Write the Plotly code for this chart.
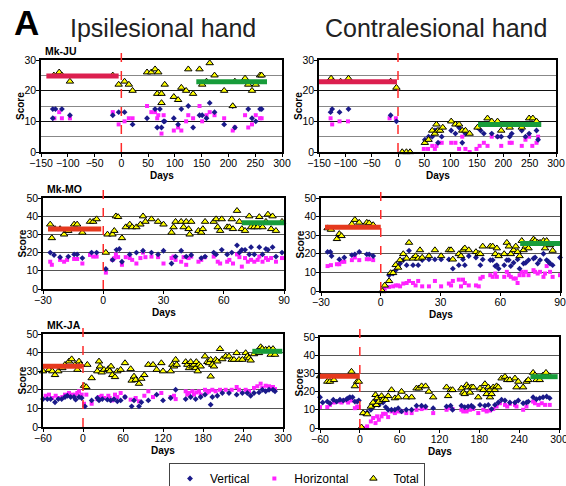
import plotly.graph_objects as go

FONT = "Arial, 'Liberation Sans', Helvetica, sans-serif"

# ---------------- Mk-JU ipsilesional ----------------
JU_I_T_DAY = [-126,-116,-111,-96,-16,-5,6,14,21,48,56,63,69,67,75,75,81,98,106,112,121,125,134,146,151,159,165,174,192,208,212,231,237,244,251,259,262]
JU_I_T = [25,26,25,23,25,22,23,22,20,26,26,27,26,19,19,16,22,18,17,21,20,27,19,27,22,23,29,25,20,15,23,24,22,20,22,25,25]
JU_I_V_DAY = [-128,-123,-128,-111,-96,-16,-5,6,21,48,63,67,72,75,79,81,98,106,112,125,134,146,151,159,165,174,192,208,212,237,244,251,259,262]
JU_I_V = [14,14,11,14,12,12,13,13,9,11,14,8,14,8,10,10,11,9,14,15,8,12,12,11,16,13,9,15,8,14,11,10,14,14]
JU_I_H_DAY = [-125,-116,-111,-96,-16,-5,6,14,21,48,56,63,67,69,75,79,98,106,112,121,125,134,146,151,159,165,174,192,208,212,231,237,244,251,259,262]
JU_I_H = [11,13,11,11,13,9,10,11,11,15,13,13,11,12,6,12,7,8,7,10,12,11,15,10,12,13,12,11,7,8,12,8,9,12,11,11]

# ---------------- Mk-JU contralesional ----------------
JU_C_T_DAY = [-127,-123,-109,-94,-14,-3,8,16,23,51,58,65,70,73,76,80,85,101,109,116,122,128,136,151,170,178,189,196,212,216,235,249,256,263]
JU_C_T = [24,23,23,24,23,21,0,0,0,3,4,7,6,9,7,7,8,10,9,9,7,7,6,8,11,10,10,7,8,9,8,11,11,10]
JU_C_V_DAY = [-128,-125,-111,-94,-14,-3,51,58,65,70,73,76,83,101,109,116,122,128,151,157,163,178,189,196,212,216,235,242,249,263,266]
JU_C_V = [13,14,13,14,12,10,4,5,5,7,7,3,5,7,6,8,3,6,8,7,6,6,5,5,5,6,7,5,6,7,4]
JU_C_H_DAY = [-128,-125,-111,-95,-16,-4,49,57,65,70,73,78,83,101,109,116,122,128,136,149,155,163,170,178,189,196,212,216,235,242,249,255,263,266]
JU_C_H = [11,9,10,10,11,11,1,1,2,1,2,3,3,3,3,1,5,1,0,1,2,3,2,5,5,2,3,3,2,4,5,2,3,5]

# ---------------- Mk-MO ipsilesional ----------------
MO_I_T_DAY = [-26.4,-25.6,-24,-21.5,-19.5,-18,-17.4,-14.5,-13,-10.4,-6.6,-5,-3.3,1.3,2.1,4.6,5.5,6.3,7.4,9.3,11.2,13.2,14.4,16.5,18.5,19.8,21,24,27.3,30,34,35,36,38.8,40,41.3,42.5,43,43.8,47.4,48.8,49.6,50.7,55,56.2,57,58.2,59,61.7,62.8,64,64.6,66.6,67.8,69,70.6,72.7,73.6,75.2,76.9,77.7,79.3,81,82,83.6,84.3,86,89]
MO_I_T = [35.5,28,33,33,30,32,32,35.5,35.5,31,37,37,38.4,20,30,30,32,40,39.6,28,34,35.5,34,34,35.5,40,37,38.4,37,35.5,31,34,37,37,34,37,33,30,37,32,31,33,37,37,38.4,34,32,38.4,34,34,38.4,33,43,37,33,32,40,34,34,34,39.6,34,37,41,33,40,32,37]
MO_I_V_DAY = [-26.4,-24.5,-21.5,-17.4,-14.5,-13,-10.4,-5.8,-3.3,1.3,4.6,6.6,8,9.3,13.2,16.5,19.8,24,27.3,30,34,36,38.8,41.3,43.8,48.8,50.7,55,56.2,59,61.7,64,66.6,67.8,69,70.6,72.7,73.6,75.2,77.7,79.3,81,82,84.3,86,89]
MO_I_V = [20,18.7,17.5,17.8,19,19,17,20,20,11,16,21.5,22,15,19,20,21,20,19,21,14,17.8,21,17.8,18.7,17,17.8,20,19,21.5,19,20,24,20,21.5,21.5,19,23,19,23,19,22,21.5,23,17.8,20]
MO_I_H_DAY = [-26.4,-25.6,-21.5,-19.5,-18,-14.5,-13,-10.4,-6.6,-5,-3.3,1.3,4.6,5.5,6.3,7.4,9.3,11.2,13.2,14.4,16.5,18.5,19.8,21,24,27.3,30,34,35,36,38.8,40,41.3,42.5,43.8,47.4,48.8,50.7,55,57,58.2,61.7,62.8,64.6,66.6,67.8,69,70.6,72,73.6,75.2,76.9,77.7,79.3,81,82,83.6,86,89]
MO_I_H = [15,13.3,16,15,16,16.5,16.5,14,18.7,17.8,17.8,9,16,17,19,17.5,13.3,17.5,17,16,14,17,20,17.5,17.8,17.5,14,17,17.8,16,15,17.5,13.3,17,17.8,15,16,17.5,17.8,15,14,15,16,14,19,17.5,12.3,17,15,16,15,16,17.8,15,17,16,17,15,17]

# ---------------- Mk-MO contralesional ----------------
MO_C_T_DAY = [-26.7,-25,-22,-20.8,-19.7,-14.5,-13,-10.8,-7,-5.8,-3.8,0.8,2,4.2,5,6.2,7.5,8.7,9.7,11.3,13,14.2,16.2,17.5,18.8,19.7,20.8,24.2,27.2,30.3,34.2,35.3,36.2,39.2,40.3,41.3,42.2,44.2,47.8,49.2,50,51.2,55,56.2,57.5,58.3,59.2,62,63.3,64.3,65.3,66.7,67.8,68.7,69.7,70.8,71.7,72.8,74.2,76.7,77.5,78.8,80,81.7,82.5,83.3,85,86.3]
MO_C_T = [33.8,33,28,30.7,29.6,36,38.3,36.8,36.8,36.5,35.5,0,3,5.4,9.7,9.7,14,12.6,16.6,19.9,17.5,26,17.5,18.8,17.5,22,18,18.8,22,18.8,22,22,17,19.9,18.8,22,23,22,21,20,19.9,24,24,24,19.9,23,18.8,19.9,26,24,19.9,22,24,21,18.8,27,22,24,23,27.8,27,26,26,27,23,27,24.7,21.7]
MO_C_V_DAY = [-26.7,-25.3,-24.7,-20.8,-18.3,-14.5,-13,-10.8,-7,-5.8,-3.8,4.2,6.2,7.5,8.7,9.7,11.3,13,14.2,16.2,18.8,20.8,24.2,27.2,30.3,34.2,36.2,39.2,41.3,42.2,44.2,47.8,50,51.2,55,56.2,57.5,58.3,59.2,62,63.3,64.3,65.3,66.7,68.7,69.7,71.7,72.8,74.2,76.7,77.5,78.8,80,81.7,83.3,84.2,85,86.3,90]
MO_C_V = [21,21,18.8,17,18,19.3,19.7,21,19.7,19.7,18.8,8.5,9.4,11.2,13.4,14.8,16.6,13.9,21.7,13.9,13.9,16.6,17,17,17,17,12,13.9,17,13.9,18.8,18,13.9,17,16.6,16.6,13.4,13.9,12,13.9,16.6,16.6,13.4,15.2,17,12,14.8,15.2,16.6,17.5,18,14.8,16.6,20,16.6,15.7,14.8,13.9,18]
MO_C_H_DAY = [-26.7,-25,-22,-20.8,-19.7,-18.3,-14.5,-13,-10.8,-7,-5.8,-3.8,2,4.2,6.2,7.5,8.7,9.7,11.3,13,14.2,16.2,17.5,18.8,20.8,24.2,27.2,30.3,34.2,35.3,36.2,39.2,40.3,41.3,42.2,44.2,47.8,49.2,50,51.2,55,56.2,57.5,58.3,62,63.3,64.3,65.3,66.7,67.8,68.7,69.7,70.8,71.7,72.8,74.2,76.7,77.5,78.8,80,81.7,82.5,83.3,85,86.3,90]
MO_C_H = [13.4,13.9,14.4,14.4,15.7,15.7,16.6,18,16.6,17.1,17.1,16.6,1.3,2.2,2.5,3,3,2.5,4,4.3,5.4,4.3,3,5.4,2.5,2.5,5.4,2.5,4,3,5.4,6.1,2.5,6.1,4.3,3,3,2.5,6.7,7.6,8.5,7.6,9.4,7.6,7.6,10.3,8.5,7.6,6.7,6.7,4.3,8.5,10.3,8.5,10.3,8.5,11.2,10.3,9.4,10.3,7.6,9.4,13.4,10.3,7.6,8.5]

# ---------------- MK-JA ipsilesional ----------------
JA_I_T_DAY = [-60,-51,-46,-42,-37,-31,-27,-21,-17,-12,-8.5,-6,-3.5,1.5,5,6.5,13,21.5,24,25.5,28,31.5,38,40,42,44,48,51.5,56.5,63,71.5,73,76.5,79,84,87.5,92,98,105,110.5,117.5,120,131.5,134,136.5,139,140.5,154,156.5,159,161.5,164,166.5,169,170,172,174,176.5,183,186.5,189,191.5,191.5,194,196.5,199,201.5,205.5,209,214,219,223,226.5,230.5,234,239,244,246.5,249,251.5,256.5,261.5,264,266.5,269,274,279,281.5,285,288]
JA_I_T = [30,30.8,30,28,30,31.7,33.5,35.3,36.5,33.5,30.8,35.3,33.5,22.2,21.5,33.5,26.3,30,35.3,32.6,29.4,30.8,31.2,30,32.6,28,26.9,30,30.8,34.4,31.2,25,27.2,25.4,23.3,26,28,33.5,33.5,30.8,34.4,30,30,33.5,32.6,36.2,33.5,35,33.5,31.7,35,32.6,33.5,31.7,35,30,33.5,32.6,38,35,34.4,36.2,27.2,33.5,32.6,36.2,35.3,42,36.5,38,38,36.2,36.2,39.8,36.2,36.2,39.8,38,37,35.8,39.2,40.7,39.8,43,42,41.6,42,38.9,42,38.9]
JA_I_V_DAY = [-60,-53.5,-48.5,-42,-37,-32,-27,-23.5,-18.5,-13.5,-11,-6,-2,3,13,21.5,24,29,36.5,41.5,46.5,51.5,56.5,63,73,76.5,84,87.5,98,110.5,120,131.5,139,154,161.5,169,176.5,183,191.5,194,201.5,209,219,230.5,239,246.5,251.5,256.5,264,269,274,279,285,288]
JA_I_V = [15,15,15,13.3,15,15,16.1,16.8,16.1,16.1,14.7,16.1,15.6,11.1,14.3,15.6,14.3,15,14.7,14.3,15,13.8,14.3,16.1,11.1,14.3,11.1,13.3,14.3,17.4,14.3,15.6,20,15,16.1,15,16.1,17.4,12,16.1,16.8,18.3,18.3,17.4,18.3,18.3,16.8,18.3,18.6,20,19.2,20,20,19.2]
JA_I_H_DAY = [-56,-51,-46,-41,-37,-31,-27,-21,-17,-12,-8.5,-6,-2,1.5,5,13,21.5,24,28,31.5,38,40,44,48,51.5,56.5,63,71.5,79,84,92,98,105,117.5,131.5,136.5,139,154,156.5,159,164,166.5,170,174,176.5,183,186.5,189,194,199,205.5,214,223,230.5,234,244,249,256.5,261.5,266.5,269,274,279,281.5,285,288]
JA_I_H = [16.8,17.4,15.6,16.8,15.6,16.1,17.4,18.3,17.4,17.4,18.3,19.2,17.4,12.5,17.4,12.5,15,16.1,16.8,15.6,16.8,15.6,14.3,17.4,16.1,18.3,16.1,14.7,15.6,13.8,16.8,19.2,16.1,18.3,16.1,16.8,15,19.2,17.4,18.3,19.2,17.4,18.6,19.2,17.4,20,18.6,19.2,20,19.2,20,20,20,21.5,20,20,19.2,21,21.9,23.3,21,22.2,21.9,20.4,21.5,20.4]

# ---------------- MK-JA contralesional ----------------
JA_C_T_DAY = [-60,-49,-45,-39,-12.6,-7.5,-4,-1.5,2.5,5,11,16.6,20,23.6,26,25,28.6,32.7,35,39,42.7,47.7,52.8,57.8,62.8,70,78,85.4,89,93,99,104,110.5,130.6,133,136.7,139.7,153,155.8,158,160.8,163,165.8,168,170.8,178.4,181,186,188.4,191,193.5,196,196,198.5,201,203.5,206,208.5,213.5,218.6,222,226,233.7,236,238.7,246,251,253.8,261,263.8,266,271,276,280.4,286]
JA_C_T = [28.5,25.5,25.5,26.4,31,23,25.5,25.5,0.4,8.2,7.6,11.8,14,18.2,16.4,12.7,14.5,17.6,15.5,15.5,17.6,20.9,16.4,16.9,20,16.9,16.9,21.8,21.8,23,23,20,16.9,22.4,17.6,20.9,20.9,21.8,19.5,18.7,23.6,22.4,19.5,22.4,22.4,16.9,21.8,20.9,24.2,18.7,22.4,16.9,20.9,18.7,22.4,20.9,23,22.4,27.3,28.2,26.4,26.4,27.3,22.4,25.5,22.4,25.5,26.4,30.4,29,26.4,26.4,29,30.4,28.5]
JA_C_V_DAY = [-60,-56,-49,-45,-40,-35,-30,-25,-20,-17.6,-15,-11,-7.5,-4,-1.5,5,11,16.6,20,23.6,26,28.6,32.7,35,39,42.7,47.7,52.8,57.8,62.8,70,78,85.4,93,99,110.5,130.6,136.7,139.7,153,158,163,168,170.8,181,188.4,193.5,198.5,203.5,208.5,213.5,218.6,226,233.7,238.7,246,251,253.8,261,266,271,276,281.4,286]
JA_C_V = [16.9,14,14.5,13.6,15.5,14.5,15.5,15.1,15.8,16.4,16.9,16.9,14.5,14.5,15.1,8.2,8.5,10,11.8,15.5,14,12.7,14.5,14,11.5,10,10,10,10.9,9.1,10,10,12.2,12.2,11.8,10.9,11.8,12.2,10,12.2,11.5,11.8,12.2,11.5,12.7,12.2,12.7,10.4,12.7,14,15.5,15.1,14,14,15.1,13.6,14,14.5,16.9,15.8,16.4,16.9,17.3,16.4]
JA_C_H_DAY = [-60,-49,-45,-39,-32.7,-27.6,-22.6,-17.6,-12.6,-7.5,-4,-1.5,5,11,16.6,20,23.6,26,28.6,32.7,35,39,42.7,47.7,52.8,57.8,62.8,70,78,85.4,93,99,110.5,130.6,133,139.7,153,155.8,160.8,165.8,170.8,178.4,186,191,196,201,206,211,218.6,222,226,233.7,236,246,251,261,263.8,269,274,279,286]
JA_C_H = [11.5,11.5,12.7,14,14.5,14,15.1,14,15.1,10.9,11.8,11.5,0,0.9,3.6,5.5,2.7,6.4,4.5,6.4,7.8,7.8,6,9.1,8.2,9.1,9.1,8.2,8.2,10,10.4,10.9,8.2,10,10.9,10.4,10,9.1,9.1,10,10.4,8.2,10,9.1,9.6,10.4,11.8,13.6,12.7,11.8,13.3,12.7,11.8,10,11.8,14.5,13.6,12.7,13.6,12.7,12.7]

# Pre-lesion and late-recovery mean levels (panels: JU-I, JU-C, MO-I, MO-C, JA-I, JA-C)
PRE_START = [-140, -150, -27.5, -28, -60, -60]
PRE_END = [-5, -2, -1, 0, -1, 0]
PRE_LEVEL = [24.8, 22.9, 33, 34.3, 32.6, 28.5]
POST_START = [140, 152, 69, 70, 254, 257]
POST_END = [272, 272, 91, 91, 299, 298]
POST_LEVEL = [22.9, 9, 36.4, 25.6, 40.7, 28.2]

MONKEYS = ["Mk-JU", "Mk-MO", "MK-JA"]
SERIES_NAMES = ["Vertical", "Horizontal", "Total"]
X_TICKS = [list(range(-150, 301, 50)), list(range(-30, 91, 30)), list(range(-60, 301, 60))]
X_RANGES = [[-150, 300], [-30, 90], [-60, 300]]
Y_MAX = [30, 50, 50]

panels = [
    (JU_I_V_DAY, JU_I_V, JU_I_H_DAY, JU_I_H, JU_I_T_DAY, JU_I_T),
    (JU_C_V_DAY, JU_C_V, JU_C_H_DAY, JU_C_H, JU_C_T_DAY, JU_C_T),
    (MO_I_V_DAY, MO_I_V, MO_I_H_DAY, MO_I_H, MO_I_T_DAY, MO_I_T),
    (MO_C_V_DAY, MO_C_V, MO_C_H_DAY, MO_C_H, MO_C_T_DAY, MO_C_T),
    (JA_I_V_DAY, JA_I_V, JA_I_H_DAY, JA_I_H, JA_I_T_DAY, JA_I_T),
    (JA_C_V_DAY, JA_C_V, JA_C_H_DAY, JA_C_H, JA_C_T_DAY, JA_C_T),
]

W, H = 566, 486
# pixel boxes (left, right, top, bottom)
BOXES = [(41, 282, 60, 152), (319, 556, 60, 152),
         (43, 284, 198, 289), (321, 560, 198, 291),
         (43, 283, 334, 427), (320, 559, 337, 428)]

PRE_COLORS = ["#dc1f4f", "#dc1f4f", "#e5391e", "#e5391e", "#e5391e", "#e5391e"]
GREEN = "#179c3a"
NAVY = "#1a1a8a"
MAGENTA = "#ff22ff"
YELLOW = "#ffff00"

fig = go.Figure()
layout = dict()
shapes = []
annotations = []

for i, (vd, vv, hd, hv, td, tv) in enumerate(panels):
    row = i // 2
    suf = "" if i == 0 else str(i + 1)
    xa, ya = "x" + suf, "y" + suf
    l, r, t, b = BOXES[i]
    first = (i == 0)
    fig.add_trace(go.Scatter(x=hd, y=hv, mode="markers", xaxis=xa, yaxis=ya,
                             name=SERIES_NAMES[1], legendrank=2, showlegend=first,
                             marker=dict(symbol="square", size=4, color=MAGENTA),
                             cliponaxis=False))
    fig.add_trace(go.Scatter(x=vd, y=vv, mode="markers", xaxis=xa, yaxis=ya,
                             name=SERIES_NAMES[0], legendrank=1, showlegend=first,
                             marker=dict(symbol="diamond", size=4.5, color=NAVY),
                             cliponaxis=False))
    fig.add_trace(go.Scatter(x=td, y=tv, mode="markers", xaxis=xa, yaxis=ya,
                             name=SERIES_NAMES[2], legendrank=3, showlegend=first,
                             marker=dict(symbol="triangle-up", size=6.5, color=YELLOW,
                                         line=dict(color="black", width=1)),
                             cliponaxis=False))
    fig.add_trace(go.Scatter(x=[PRE_START[i], PRE_END[i]], y=[PRE_LEVEL[i]] * 2,
                             mode="lines", xaxis=xa, yaxis=ya, showlegend=False,
                             line=dict(color=PRE_COLORS[i], width=5), cliponaxis=False))
    fig.add_trace(go.Scatter(x=[POST_START[i], POST_END[i]], y=[POST_LEVEL[i]] * 2,
                             mode="lines", xaxis=xa, yaxis=ya, showlegend=False,
                             line=dict(color=GREEN, width=5), cliponaxis=False))

    xkey = "xaxis" + suf
    ykey = "yaxis" + suf
    layout[xkey] = dict(
        domain=[l / W, r / W], anchor=ya, range=X_RANGES[row],
        tickvals=X_TICKS[row], tickangle=0, ticks="outside", ticklen=3, tickcolor="black",
        showline=True, linecolor="black", linewidth=1.5, mirror=True,
        showgrid=False, zeroline=False, automargin=False, ticklabeloverflow="allow",
        ticklabelstandoff=-2,
        tickfont=dict(family=FONT, size=10.5, color="black"),
    )
    ydict = dict(
        domain=[1 - b / H, 1 - t / H], anchor=xa, range=[0, Y_MAX[row]],
        dtick=10, ticks="outside", ticklen=3, tickcolor="black",
        showline=True, linecolor="black", linewidth=1.5, mirror=True,
        showgrid=True, gridcolor="#555555", gridwidth=1.2, zeroline=False, automargin=False,
        ticklabelstandoff=-2, ticklabeloverflow="allow",
        tickfont=dict(family=FONT, size=10.5, color="black"),
    )
    if row == 0:
        ydict["gridcolor"] = "#111111"
        ydict["minor"] = dict(dtick=5, showgrid=True, gridcolor="#888888", gridwidth=1.2, ticks="")
    layout[ykey] = ydict

    shapes.append(dict(type="line", xref=xa, yref=ya + " domain", x0=0, x1=0, y0=0, y1=1.1,
                       line=dict(color="#ff2a2a", width=1.5, dash="dash")))
    # axis titles
    annotations.append(dict(text="<b>Days</b>", xref=xa + " domain", yref="paper",
                            x=0.5, y=1 - (b + 23) / H, xanchor="center", yanchor="middle",
                            showarrow=False, font=dict(family=FONT, size=10, color="black")))
    annotations.append(dict(text="<b>Score</b>", xref="paper", yref=ya + " domain",
                            x=(l - 21) / W, y=0.5, xanchor="center", yanchor="middle",
                            textangle=-90, showarrow=False,
                            font=dict(family=FONT, size=10, color="black")))
    if i % 2 == 0:
        annotations.append(dict(text="<b>" + MONKEYS[row] + "</b>", xref="paper", yref="paper",
                                x=(l + 2) / W, y=1 - (t - 1) / H, xanchor="left", yanchor="bottom",
                                showarrow=False, font=dict(family=FONT, size=10.5, color="black")))

annotations += [
    dict(text="<b>A</b>", xref="paper", yref="paper", x=12 / W, y=1 - 1 / H,
         xanchor="left", yanchor="top", showarrow=False,
         font=dict(family=FONT, size=35, color="black")),
    dict(text="Ipsilesional hand", xref="paper", yref="paper", x=163 / W, y=1 - 28 / H,
         xanchor="center", yanchor="middle", showarrow=False,
         font=dict(family=FONT, size=25, color="#222")),
    dict(text="Contralesional hand", xref="paper", yref="paper", x=436 / W, y=1 - 28 / H,
         xanchor="center", yanchor="middle", showarrow=False,
         font=dict(family=FONT, size=25, color="#222")),
]

fig.update_layout(
    **layout,
    width=W, height=H,
    margin=dict(l=0, r=0, t=0, b=0, autoexpand=False),
    paper_bgcolor="white", plot_bgcolor="white",
    shapes=shapes, annotations=annotations,
    showlegend=True,
    legend=dict(orientation="h", xref="container", yref="container",
                x=297 / W, xanchor="center", y=1 - 463 / H, yanchor="top",
                bordercolor="#444", borderwidth=1, bgcolor="white",
                font=dict(family=FONT, size=12, color="black"),
                itemwidth=30, tracegroupgap=0),
)

fig.write_html("out.html", config={"displayModeBar": False},
               post_script="document.body.style.margin='0';document.body.style.overflow='hidden';")
